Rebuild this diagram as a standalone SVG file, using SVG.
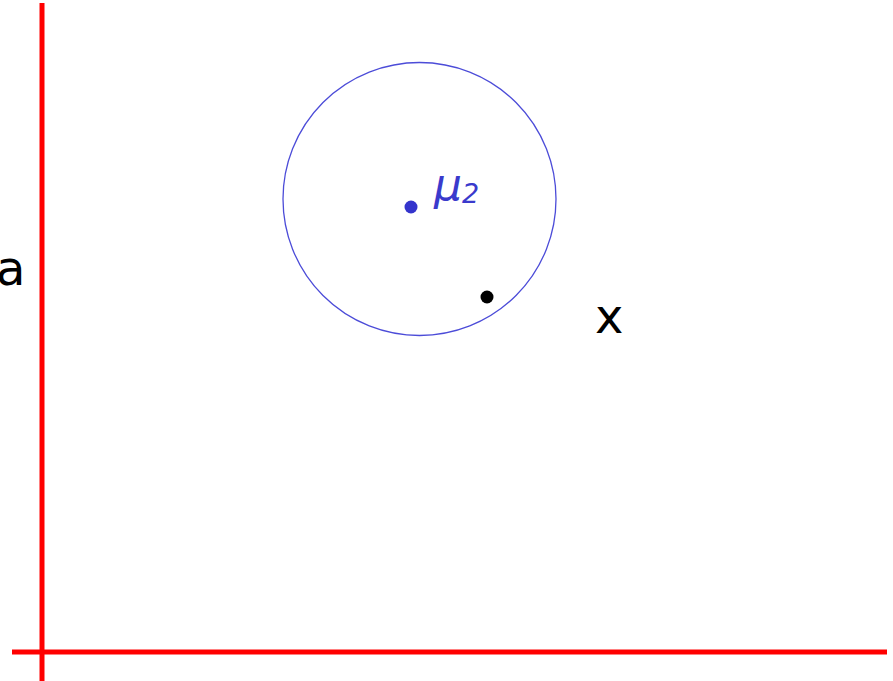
<svg xmlns="http://www.w3.org/2000/svg" width="893" height="681" viewBox="0 0 893 681">
<style>
.axis{stroke:#ff0000;stroke-width:5;fill:none}
.lbl{font-family:"DejaVu Sans",Verdana,sans-serif;fill:#000}
.mu{font-family:"DejaVu Sans",Verdana,sans-serif;fill:#3a3acc;font-style:italic}
</style>
<rect width="893" height="681" fill="#fff"/>
<g id="axes">
<line class="axis" x1="42" y1="3" x2="42" y2="681"/>
<line class="axis" x1="12" y1="652" x2="887" y2="652"/>
</g>
<g id="cluster">
<circle cx="419.5" cy="199" r="136.5" fill="none" stroke="#4c4cd8" stroke-width="1.3"/>
<circle cx="411" cy="207" r="6.5" fill="#3434cc"/>
<text class="mu" x="434" y="200" font-size="44">μ<tspan font-size="27" dy="3">2</tspan></text>
</g>
<g id="point">
<circle cx="487" cy="297" r="6.5" fill="#000"/>
</g>
<text class="lbl" x="595" y="333" font-size="48">x</text>
<text class="lbl" x="-4" y="285" font-size="48">a</text>
</svg>
